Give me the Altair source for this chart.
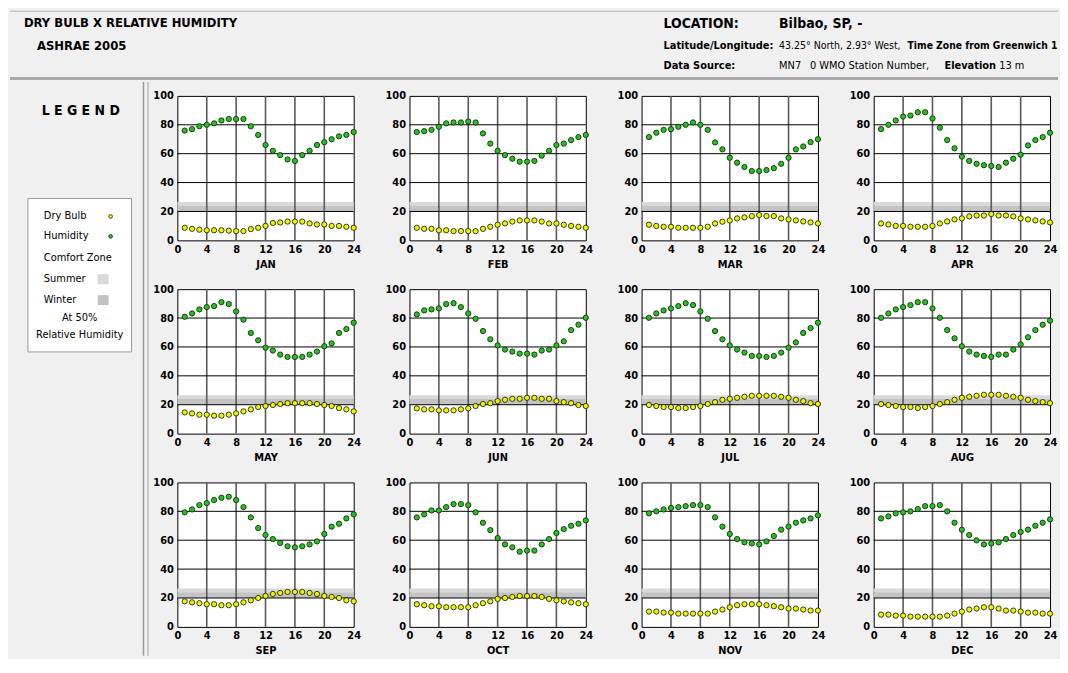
import altair as alt
import pandas as pd

FONT = "DejaVu Sans Condensed, Liberation Sans, sans-serif"

HOURS = list(range(1, 25))
MONTHS = ["JAN", "FEB", "MAR", "APR", "MAY", "JUN", "JUL", "AUG", "SEP", "OCT", "NOV", "DEC"]
X_TICKS = [0, 4, 8, 12, 16, 20, 24]
Y_TICKS = [0, 20, 40, 60, 80, 100]
X_GRID = [4, 8, 12, 16, 20]
Y_GRID = [20, 40, 60, 80]

# Comfort zone at 50% relative humidity (dry bulb limits)
ZONES = ["Summer", "Winter"]
ZONE_LO = [24, 20]
ZONE_HI = [26.5, 24]
ZONE_COLORS = ["#d9d9d9", "#c3c3c3"]

SERIES = ["Dry Bulb", "Humidity"]
SERIES_COLORS = ["#f2f200", "#1fc41f"]

JAN_RH = [76, 77, 79, 80, 81, 83, 84, 84, 84, 79, 73, 66, 62, 59, 56, 55, 59, 62, 66, 68, 70, 72, 73, 75]
JAN_DB = [8.7, 8, 7.4, 7, 7, 7, 6.7, 6.4, 6.4, 7.8, 8.7, 10, 12, 12.4, 13, 13, 13, 11.7, 11, 11, 10, 10, 9.4, 8.7]
FEB_RH = [75, 75.6, 76.5, 78.6, 81, 81.6, 81.6, 82.3, 81.6, 74, 67, 62, 59, 56.5, 54.5, 54.5, 55, 58.6, 62, 66, 67, 69.4, 71.5, 73]
FEB_DB = [8.7, 8, 8, 7, 7, 6.4, 6.4, 6.4, 6.4, 8, 9.4, 10.8, 11.7, 13, 13.8, 13.8, 13.8, 13, 11.7, 11.7, 10.8, 10, 9.4, 8.7]
MAR_RH = [71.5, 74.5, 76.5, 77, 78.6, 80, 81.6, 80, 76.5, 67.8, 63, 57.2, 53.8, 50.8, 48, 48, 48.7, 50, 53, 57.2, 63, 65, 68, 70]
MAR_DB = [10.8, 10, 9.4, 9.4, 8.7, 8.7, 8.7, 8.7, 9.4, 11.7, 12.9, 13.8, 15.2, 15.9, 16.8, 17.5, 16.8, 16.8, 15.2, 14.5, 13.8, 13.1, 12.4, 11.7]
APR_RH = [77, 80, 83, 85.7, 86.4, 88.7, 88.7, 84.4, 78, 69.4, 63.7, 58, 55, 53, 52, 51.5, 50.8, 53.8, 56.5, 59.3, 65.7, 69.4, 71.5, 74.5]
APR_DB = [11.7, 11, 10, 10, 9.4, 9.4, 9.4, 10, 11.7, 13.1, 14.5, 15.2, 16.6, 17.2, 17.2, 18.2, 17.2, 17.2, 16.6, 15.2, 14.5, 13.8, 13.1, 12.4]
MAY_RH = [80.9, 83.2, 86, 87.6, 88.3, 91, 89.7, 84.6, 78.9, 69.7, 64.6, 59.5, 57.5, 54.7, 53.1, 53.1, 53.1, 54.7, 56.8, 60.5, 62.5, 69.7, 72.4, 76.8]
MAY_DB = [14.7, 14, 13.1, 13.1, 12.4, 12.4, 13.1, 14, 15.4, 16.8, 18.4, 19.1, 19.8, 20.5, 21.1, 21.1, 21.1, 21.1, 20.5, 19.8, 19.1, 17.7, 16.8, 15.4]
JUN_RH = [82.5, 85.3, 86, 86.7, 89.7, 90.3, 87.6, 83.2, 79.5, 71, 65.3, 61.1, 58.2, 56.8, 55.4, 55.4, 54.7, 57.5, 58.2, 61.1, 63.9, 71.7, 75.4, 80.2]
JUN_DB = [17.5, 16.8, 16.8, 16.1, 16.1, 16.1, 16.8, 17.5, 19.1, 20.5, 21.1, 22.5, 23.4, 24.1, 24.1, 24.8, 24.8, 24.1, 24.1, 22.5, 21.8, 21.1, 19.8, 19.1]
JUL_RH = [80.2, 83.2, 85.3, 86.7, 88.3, 90.3, 89, 84.6, 79.5, 71, 65.3, 61.1, 58.2, 56.1, 53.8, 53.8, 53.1, 53.8, 56.1, 59.5, 63.2, 69.7, 73.1, 76.8]
JUL_DB = [19.8, 19.1, 18.4, 18.4, 17.7, 17.7, 18.4, 19.1, 20.5, 21.8, 23.4, 24.1, 24.8, 25.5, 26.2, 26.2, 26.2, 26.2, 25.5, 24.8, 23.4, 22.5, 21.1, 20.5]
AUG_RH = [80.2, 83.2, 86, 87.6, 89, 91, 91, 86.7, 80.2, 71.7, 66, 60.5, 56.8, 54.7, 53.8, 53.1, 54.7, 54.7, 58.2, 61.8, 66.7, 71.7, 75.4, 78.2]
AUG_DB = [20.5, 19.8, 19.1, 18.4, 18.4, 17.7, 18.4, 19.1, 20.5, 21.8, 23.4, 24.8, 25.5, 26.2, 26.9, 26.9, 26.9, 26.2, 25.5, 24.8, 23.4, 22.5, 21.8, 21.1]
SEP_RH = [79.3, 81.3, 84.3, 85.7, 87.8, 89.4, 90.1, 87.8, 82.9, 75.8, 68.4, 63.6, 60.8, 58.1, 55.8, 55.1, 55.8, 57.1, 59.2, 64.3, 69.4, 71.4, 75.1, 77.9]
SEP_DB = [17.7, 17, 16.4, 15.7, 15.7, 15, 15, 15.7, 17, 18.4, 20, 21.4, 22.8, 23.5, 24.2, 24.2, 24.2, 23.5, 22.8, 21.4, 20.7, 20, 18.4, 17.7]
OCT_RH = [75.8, 77.9, 80.6, 80.6, 82.9, 85, 85, 84.3, 79.3, 72.1, 67, 61.5, 57.1, 55.1, 52.1, 52.8, 52.8, 57.1, 60.8, 65, 67.7, 70, 71.4, 73.7]
OCT_DB = [15.7, 15, 14.3, 14.3, 13.6, 13.6, 13.6, 13.6, 15, 16.4, 17.7, 19.4, 20, 20.7, 21.4, 21.4, 21.4, 20.7, 19.4, 18.4, 17.7, 17, 16.4, 15.7]
NOV_RH = [78.6, 80, 81.3, 82.3, 82.9, 83.6, 84.3, 84.3, 82.9, 75.8, 69.4, 64.3, 60.8, 58.5, 57.8, 57.1, 59.2, 62.9, 67.3, 69.4, 72.1, 73.7, 75.1, 77.2]
NOV_DB = [10.6, 10.6, 9.9, 9.9, 9.2, 9.2, 9.2, 9.2, 9.2, 10.6, 12, 13.6, 15, 15.7, 15.7, 15.7, 15, 14.3, 13.6, 12.7, 12.7, 12, 11.3, 11.3]
DEC_RH = [75.1, 76.5, 78.6, 79.3, 80, 81.6, 83.6, 83.6, 84.3, 80, 72.1, 67.3, 63.6, 59.9, 57.1, 57.8, 58.5, 60.8, 63.6, 65.7, 67.3, 70, 72.1, 74.4]
DEC_DB = [8.5, 8.5, 7.8, 7.8, 7.1, 7.1, 7.1, 7.1, 7.1, 7.8, 9.2, 10.6, 12, 12.7, 13.6, 13.6, 12.7, 11.3, 11.3, 10.6, 9.9, 9.9, 9.2, 9.2]

RH = dict(zip(MONTHS, [JAN_RH, FEB_RH, MAR_RH, APR_RH, MAY_RH, JUN_RH, JUL_RH, AUG_RH, SEP_RH, OCT_RH, NOV_RH, DEC_RH]))
DB = dict(zip(MONTHS, [JAN_DB, FEB_DB, MAR_DB, APR_DB, MAY_DB, JUN_DB, JUL_DB, AUG_DB, SEP_DB, OCT_DB, NOV_DB, DEC_DB]))

TITLE_1 = "DRY BULB  X  RELATIVE HUMIDITY"
TITLE_2 = "ASHRAE 2005"
LOC_LABEL = "LOCATION:"
LOC_VALUE = "Bilbao, SP, -"
LAT_LABEL = "Latitude/Longitude:"
LAT_VALUE = "43.25° North, 2.93° West,"
TZ_TEXT = "Time Zone from Greenwich 1"
SRC_LABEL = "Data Source:"
SRC_CODE = "MN7"
SRC_WMO = "0 WMO Station Number,"
ELEV_LABEL = "Elevation"
ELEV_VALUE = "13 m"
LEGEND_TITLE = "L E G E N D"
LEGEND_LABELS = ["Dry Bulb", "Humidity", "Comfort Zone", "Summer", "Winter", "At 50%", "Relative Humidity"]

PW, PH = 177, 145
ONE = pd.DataFrame({"k": [0]})


def txt(s, x, y, size=12, weight="normal", align="left"):
    return alt.Chart(ONE).mark_text(
        text=s, font=FONT, fontSize=size, fontWeight=weight, align=align,
        baseline="middle", color="black"
    ).encode(x=alt.value(x), y=alt.value(y))


def hrule(x, x2, y, color, w):
    return alt.Chart(ONE).mark_rule(color=color, strokeWidth=w).encode(
        x=alt.value(x), x2=alt.value(x2), y=alt.value(y))


def vrule(x, y, y2, color, w):
    return alt.Chart(ONE).mark_rule(color=color, strokeWidth=w).encode(
        x=alt.value(x), y=alt.value(y), y2=alt.value(y2))


def panel(m):
    pts = pd.DataFrame({
        "hour": HOURS + HOURS,
        "value": DB[m] + RH[m],
        "series": [SERIES[0]] * 24 + [SERIES[1]] * 24,
    })
    band_df = pd.DataFrame({"zone": ZONES, "lo": ZONE_LO, "hi": ZONE_HI})
    xs = alt.Scale(domain=[0, 24], nice=False, zero=False)
    ys = alt.Scale(domain=[0, 100], nice=False)
    ax_x = alt.Axis(values=X_TICKS, title=m, grid=False, ticks=False, domain=False,
                    labelFont=FONT, labelFontWeight="bold", labelFontSize=11,
                    labelColor="black", labelPadding=3, labelFlush=False,
                    titleFont=FONT, titleFontWeight="bold", titleFontSize=11,
                    titleColor="black", titlePadding=4)
    ax_y = alt.Axis(values=Y_TICKS, title=None, grid=False, ticks=False, domain=False,
                    labelFont=FONT, labelFontWeight="bold", labelFontSize=11,
                    labelColor="black", labelPadding=4, labelFlush=False)
    band = alt.Chart(band_df).mark_rect().encode(
        x=alt.value(0), x2=alt.value(PW),
        y=alt.Y("lo:Q", scale=ys, axis=ax_y), y2="hi:Q",
        color=alt.Color("zone:N", scale=alt.Scale(domain=ZONES, range=ZONE_COLORS), legend=None),
    )
    vgrid = alt.Chart(pd.DataFrame({"v": X_GRID})).mark_rule(color="#5a5a5a", strokeWidth=1.6).encode(
        x=alt.X("v:Q", scale=xs, axis=ax_x))
    hgrid = alt.Chart(pd.DataFrame({"v": Y_GRID})).mark_rule(color="#000000", strokeWidth=1).encode(
        y=alt.Y("v:Q", scale=ys, axis=ax_y))
    dots = alt.Chart(pts).mark_circle(size=28, stroke="#1e2a10", strokeWidth=0.9, opacity=1).encode(
        x=alt.X("hour:Q", scale=xs, axis=ax_x),
        y=alt.Y("value:Q", scale=ys, axis=ax_y),
        fill=alt.Fill("series:N", scale=alt.Scale(domain=SERIES, range=SERIES_COLORS), legend=None),
    )
    return alt.layer(band, vgrid, hgrid, dots).properties(
        width=PW, height=PH,
        view=alt.ViewBackground(fill="white", stroke="#000000", strokeWidth=1),
    )


grid = alt.ConcatChart(
    concat=[panel(m) for m in MONTHS], columns=4,
    spacing=alt.RowColnumber(row=49, column=56), bounds="flush",
)

# header (local coordinates: page minus 8)
header = alt.layer(
    hrule(0, 1052, 1, "#c8c8c8", 1.5),
    hrule(0, 1052, 68.5, "#a8a8a8", 3),
    txt(TITLE_1, 14, 13, 13, "bold"),
    txt(TITLE_2, 27, 36, 13, "bold"),
    txt(LOC_LABEL, 656, 14, 14, "bold"),
    txt(LOC_VALUE, 772, 14, 14, "bold"),
    txt(LAT_LABEL, 656, 36, 11, "bold"),
    txt(LAT_VALUE, 772, 36, 10.5),
    txt(TZ_TEXT, 901, 36, 10.3, "bold"),
    txt(SRC_LABEL, 656, 56, 11, "bold"),
    txt(SRC_CODE, 772, 56, 11),
    txt(SRC_WMO, 803, 56, 11),
    txt(ELEV_LABEL, 938, 56, 11, "bold"),
    txt(ELEV_VALUE, 993, 56, 11),
).properties(width=1052, height=70)

# legend panel
legend_box = alt.Chart(ONE).mark_rect(fill="white", stroke="#9a9a9a", strokeWidth=1).encode(
    x=alt.value(18), x2=alt.value(122), y=alt.value(103), y2=alt.value(257))
db_dot = alt.Chart(ONE).mark_circle(size=14, fill=SERIES_COLORS[0], stroke="#1e2a10", strokeWidth=0.8, opacity=1).encode(
    x=alt.value(101), y=alt.value(121))
rh_dot = alt.Chart(ONE).mark_circle(size=14, fill=SERIES_COLORS[1], stroke="#1e2a10", strokeWidth=0.8, opacity=1).encode(
    x=alt.value(101), y=alt.value(141))
sq_summer = alt.Chart(ONE).mark_rect(fill=ZONE_COLORS[0]).encode(
    x=alt.value(88), x2=alt.value(99), y=alt.value(179), y2=alt.value(189))
sq_winter = alt.Chart(ONE).mark_rect(fill=ZONE_COLORS[1]).encode(
    x=alt.value(88), x2=alt.value(99), y=alt.value(200), y2=alt.value(210))

legend = alt.layer(
    vrule(134, -14, 562, "#9a9a9a", 1.5),
    vrule(138.5, -14, 562, "#bdbdbd", 1.5),
    txt(LEGEND_TITLE, 71, 15, 14, "bold", "center"),
    legend_box,
    txt(LEGEND_LABELS[0], 34, 121, 11),
    db_dot,
    txt(LEGEND_LABELS[1], 34, 141, 11),
    rh_dot,
    txt(LEGEND_LABELS[2], 34, 163, 11),
    txt(LEGEND_LABELS[3], 34, 184, 11),
    sq_summer,
    txt(LEGEND_LABELS[4], 34, 205, 11),
    sq_winter,
    txt(LEGEND_LABELS[5], 70, 223, 11, "normal", "center"),
    txt(LEGEND_LABELS[6], 70, 240, 11, "normal", "center"),
).properties(width=135, height=533)

body = alt.HConcatChart(hconcat=[legend, grid], spacing=33, bounds="flush")

chart = alt.VConcatChart(vconcat=[header, body], spacing=16, bounds="flush").properties(
    padding=0, background="#f0f0f0"
).configure_view(stroke="transparent")

chart.save("out.html", embed_options={"renderer": "svg", "actions": False})
